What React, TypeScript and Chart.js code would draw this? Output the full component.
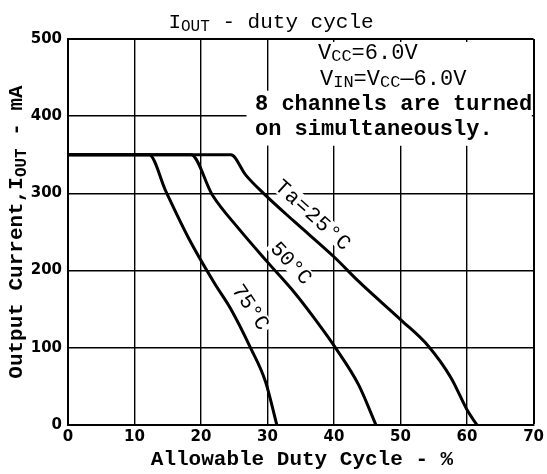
import { useEffect, useRef } from 'react';
import { Chart, registerables } from 'chart.js';

Chart.register(...registerables);

// ---- data ----
const xTickValues = [0, 10, 20, 30, 40, 50, 60, 70];
const yTickValues = [0, 100, 200, 300, 400, 500];

const dutyTa25 = [0, 24.5, 26.7, 29.4, 34.1, 40.1, 43.7, 50.2, 54.1, 57.6, 60.1, 61.5];
const ioutTa25 = [350, 350, 324, 300, 263, 217, 186, 135, 103, 61, 18, 0];

const dutyTa50 = [0, 18.5, 21.7, 25.7, 30.1, 34.1, 36.8, 40.3, 43.7, 46.3];
const ioutTa50 = [350, 350, 298, 254, 210, 171, 141, 99, 52, 0];

const dutyTa75 = [0, 12.2, 14.7, 18.2, 22.0, 24.5, 27.5, 29.7, 31.4];
const ioutTa75 = [350, 350, 303, 241, 184, 150, 99, 56, 0];

const curveLabels = ['Ta=25°C', '50°C', '75°C'];
const curveLabelX = [36.9, 33.6, 27.5];
const curveLabelY = [272, 210, 153];
const curveLabelAngle = [42, 47, 56];

type Run = { text: string; font: string; dy?: number };

function drawRuns(ctx: CanvasRenderingContext2D, runs: Run[], x: number, y: number, align: 'left' | 'center', angle = 0) {
  ctx.save();
  ctx.translate(x, y);
  ctx.rotate(angle);
  ctx.textBaseline = 'middle';
  ctx.textAlign = 'left';
  ctx.fillStyle = '#000';
  const widths = runs.map((r) => {
    ctx.font = r.font;
    return ctx.measureText(r.text).width;
  });
  const total = widths.reduce((a, b) => a + b, 0);
  let cx = align === 'center' ? -total / 2 : 0;
  runs.forEach((r, i) => {
    ctx.font = r.font;
    ctx.fillText(r.text, cx, r.dy || 0);
    cx += widths[i];
  });
  ctx.restore();
}

const MONO = '"Liberation Mono", "DejaVu Sans Mono", monospace';

const annotationPlugin = {
  id: 'annot',
  beforeDraw(chart: any) {
    const ctx = chart.ctx;
    ctx.save();
    ctx.fillStyle = '#fff';
    ctx.fillRect(0, 0, chart.width, chart.height);
    ctx.restore();
  },
  beforeDatasetsDraw(chart: any) {
    const ctx: CanvasRenderingContext2D = chart.ctx;
    const xs = chart.scales.x;
    const ys = chart.scales.y;
    const area = chart.chartArea;
    ctx.save();
    ctx.fillStyle = '#fff';
    // blank areas behind the conditions note
    const x30 = xs.getPixelForValue(30);
    ctx.fillRect(x30 + 3, area.top + 3, area.right - x30 - 5, ys.getPixelForValue(362) - area.top - 3);
    ctx.fillRect(x30 - 21, ys.getPixelForValue(433), area.right - x30 + 19, ys.getPixelForValue(362) - ys.getPixelForValue(433));
    // curve labels
    curveLabels.forEach((t, i) => {
      const px = xs.getPixelForValue(curveLabelX[i]);
      const py = ys.getPixelForValue(curveLabelY[i]);
      ctx.save();
      ctx.translate(px, py);
      ctx.rotate((curveLabelAngle[i] * Math.PI) / 180);
      ctx.font = `21px ${MONO}`;
      (ctx as any).letterSpacing = i === 0 ? '1px' : '0px';
      const w = ctx.measureText(t).width;
      ctx.fillStyle = '#fff';
      ctx.fillRect(-w / 2 - 3, -9, w + 6, 18);
      ctx.fillStyle = '#000';
      ctx.textAlign = 'center';
      ctx.textBaseline = 'middle';
      ctx.fillText(t, 0, 1);
      ctx.restore();
    });
    ctx.restore();
  },
  afterDraw(chart: any) {
    const ctx: CanvasRenderingContext2D = chart.ctx;
    const area = chart.chartArea;
    const cx = (area.left + area.right) / 2;
    // title
    drawRuns(ctx, [
      { text: 'I', font: `21px ${MONO}` },
      { text: 'OUT', font: `16px ${MONO}`, dy: 5 },
      { text: ' - duty cycle', font: `21px ${MONO}` },
    ], 271, 22, 'center');
    // x title
    drawRuns(ctx, [{ text: 'Allowable Duty Cycle - %', font: `bold 21px ${MONO}` }], 302, 460, 'center');
    // y title
    drawRuns(ctx, [
      { text: 'Output Current,I', font: `bold 21px ${MONO}` },
      { text: 'OUT', font: `bold 16px ${MONO}`, dy: 5 },
      { text: ' - mA', font: `bold 21px ${MONO}` },
    ], 17, (area.top + area.bottom) / 2, 'center', -Math.PI / 2);
    // conditions
    drawRuns(ctx, [
      { text: 'V', font: `22px ${MONO}` },
      { text: 'CC', font: `17px ${MONO}`, dy: 3 },
      { text: '=6.0V', font: `22px ${MONO}` },
    ], 318, 53, 'left');
    drawRuns(ctx, [
      { text: 'V', font: `22px ${MONO}` },
      { text: 'IN', font: `17px ${MONO}`, dy: 3 },
      { text: '=V', font: `22px ${MONO}` },
      { text: 'CC', font: `17px ${MONO}`, dy: 3 },
      { text: '—6.0V', font: `22px ${MONO}` },
    ], 320, 79, 'left');
    drawRuns(ctx, [{ text: '8 channels are turned', font: `bold 22px ${MONO}` }], 255, 104, 'left');
    drawRuns(ctx, [{ text: 'on simultaneously.', font: `bold 22px ${MONO}` }], 255, 129, 'left');
    void cx;
  },
};

function toPoints(xs: number[], ys: number[]) {
  return xs.map((x, i) => ({ x, y: ys[i] }));
}

export default function App() {
  const ref = useRef<HTMLCanvasElement | null>(null);
  useEffect(() => {
    document.body.style.margin = '0';
    const canvas = ref.current!;
    const lineDs = (data: { x: number; y: number }[]) => ({
      data,
      borderColor: '#000',
      borderWidth: 3,
      pointRadius: 0,
      fill: false,
      cubicInterpolationMode: 'monotone' as const,
    });
    const chart = new Chart(canvas, {
      type: 'line',
      data: {
        datasets: [
          lineDs(toPoints(dutyTa25, ioutTa25)),
          lineDs(toPoints(dutyTa50, ioutTa50)),
          lineDs(toPoints(dutyTa75, ioutTa75)),
        ],
      },
      options: {
        animation: false,
        responsive: false,
        devicePixelRatio: 1,
        layout: { padding: { top: 39, right: 10, left: 0, bottom: 0 } },
        plugins: { legend: { display: false }, tooltip: { enabled: false } },
        scales: {
          x: {
            type: 'linear',
            min: 0,
            max: 70,
            afterBuildTicks: (s: any) => {
              s.ticks = xTickValues.map((v) => ({ value: v }));
            },
            afterFit: (s: any) => {
              s.height = 49;
            },
            grid: {
              color: '#000',
              lineWidth: (c: any) => (c.tick && c.tick.value === 70 ? 2 : 1.4),
              drawTicks: false,
            },
            border: { display: true, color: '#000', width: 2 },
            ticks: {
              color: '#000',
              padding: 3,
              maxRotation: 0,
              font: { family: '"DejaVu Sans"', size: 15, weight: 'bold' },
            },
          },
          y: {
            type: 'linear',
            min: 0,
            max: 500,
            afterBuildTicks: (s: any) => {
              s.ticks = yTickValues.map((v) => ({ value: v }));
            },
            afterFit: (s: any) => {
              s.width = 68;
            },
            grid: {
              color: '#000',
              lineWidth: (c: any) => (c.tick && c.tick.value === 500 ? 2 : 1.4),
              drawTicks: false,
            },
            border: { display: true, color: '#000', width: 2 },
            ticks: {
              color: '#000',
              padding: 6,
              font: { family: '"DejaVu Sans"', size: 15, weight: 'bold' },
            },
          },
        },
      },
      plugins: [annotationPlugin],
    });
    return () => chart.destroy();
  }, []);
  return (
    <div style={{ width: 547, height: 474 }}>
      <canvas ref={ref} width={547} height={474} style={{ display: 'block' }} />
    </div>
  );
}
